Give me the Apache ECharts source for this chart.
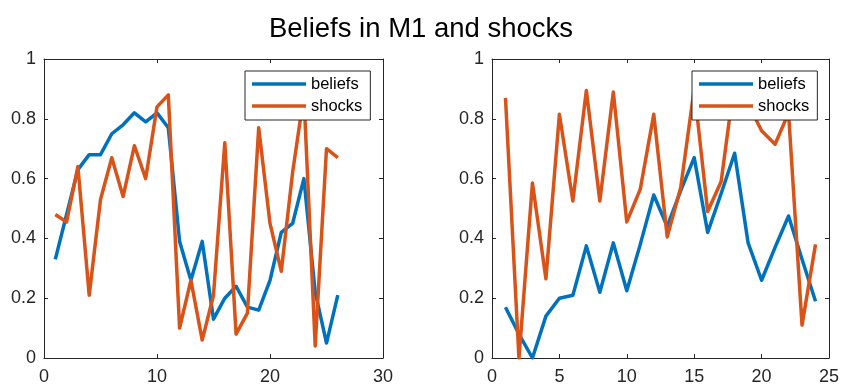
<!DOCTYPE html>
<html>
<head>
<meta charset="utf-8">
<script src="https://cdn.jsdelivr.net/npm/echarts@6/dist/echarts.min.js"></script>
<style>
  html, body { margin: 0; padding: 0; background: #fff; }
  #chart { width: 842px; height: 386px; }
</style>
</head>
<body>
<div id="chart"></div>
<script>
// values
const leftBeliefs = [0.33, 0.48, 0.63, 0.68, 0.68, 0.75, 0.78, 0.82, 0.79, 0.82, 0.77, 0.39, 0.26,
    0.39, 0.13, 0.20, 0.24, 0.17, 0.16, 0.26, 0.42, 0.45, 0.60, 0.22, 0.05, 0.21];
const leftShocks = [0.48, 0.455, 0.64, 0.21, 0.53, 0.67, 0.54, 0.71, 0.60, 0.84, 0.88, 0.10, 0.26,
    0.06, 0.21, 0.72, 0.08, 0.15, 0.77, 0.45, 0.29, 0.62, 0.88, 0.04, 0.70, 0.67];
const rightBeliefs = [0.17, 0.08, 0.00, 0.14, 0.20, 0.21, 0.375, 0.22, 0.385, 0.225, 0.38, 0.545,
    0.44, 0.56, 0.67, 0.42, 0.55, 0.685, 0.385, 0.26, 0.37, 0.475, 0.33, 0.19];
const rightShocks = [0.87, 0.00, 0.585, 0.265, 0.815, 0.525, 0.895, 0.525, 0.89, 0.455, 0.565, 0.815,
    0.405, 0.57, 0.90, 0.49, 0.59, 0.93, 0.85, 0.76, 0.715, 0.82, 0.11, 0.38];

const leftXMax = 30, leftXStep = 10;
const rightXMax = 25, rightXStep = 5;
const yMax = 1, yStep = 0.2;

const BLUE = '#0072BD';
const ORANGE = '#D95319';
const AXIS = '#262626';
const FONT = '"Liberation Sans", Arial, sans-serif';

// x index starts at 1
function pts(arr) {
    return arr.map((v, i) => [i + 1, v]);
}

function xAx(grid, max, step, pos) {
    return {
        type: 'value', gridIndex: grid, position: pos, min: 0, max: max, interval: step,
        axisLine: {show: true, onZero: false, lineStyle: {color: AXIS, width: 1}},
        axisTick: {show: true, inside: true, length: 4, lineStyle: {color: AXIS}},
        axisLabel: {show: pos === 'bottom', color: AXIS, fontSize: 18, fontFamily: FONT, margin: 10},
        splitLine: {show: false}
    };
}

function yAx(grid, pos) {
    return {
        type: 'value', gridIndex: grid, position: pos, min: 0, max: yMax, interval: yStep,
        axisLine: {show: true, onZero: false, lineStyle: {color: AXIS, width: 1}},
        axisTick: {show: true, inside: true, length: 4, lineStyle: {color: AXIS}},
        axisLabel: {show: pos === 'left', color: AXIS, fontSize: 18, fontFamily: FONT, margin: 8},
        splitLine: {show: false}
    };
}

function legendAt(left) {
    return {
        left: left, top: 71, orient: 'vertical', z: 10,
        data: ['beliefs', 'shocks'],
        icon: 'rect', itemWidth: 54, itemHeight: 3.5, itemGap: 2,
        padding: [3, 8, 4, 7],
        backgroundColor: '#fff', borderColor: AXIS, borderWidth: 1,
        textStyle: {fontSize: 16.5, fontFamily: FONT, color: '#000', lineHeight: 20, padding: [0, 0, 0, 0]},
        selectedMode: false
    };
}

function lineSeries(name, data, color, idx) {
    return {
        name: name, type: 'line', data: pts(data),
        xAxisIndex: idx, yAxisIndex: idx,
        showSymbol: false, symbol: 'none',
        lineStyle: {color: color, width: 3.5, join: 'round'},
        itemStyle: {color: color},
        animation: false
    };
}

const chart = echarts.init(document.getElementById('chart'));
chart.setOption({
    backgroundColor: '#fff',
    animation: false,
    title: {
        text: 'Beliefs in M1 and shocks', left: 'center', top: 10,
        textStyle: {fontSize: 27.5, fontWeight: 'normal', fontFamily: FONT, color: '#000'}
    },
    legend: [legendAt(245), legendAt(692)],
    grid: [
        {left: 44, top: 59, width: 339, height: 300, show: false},
        {left: 492, top: 59, width: 341, height: 300, show: false}
    ],
    xAxis: [
        xAx(0, leftXMax, leftXStep, 'bottom'),
        xAx(1, rightXMax, rightXStep, 'bottom'),
        xAx(0, leftXMax, leftXStep, 'top'),
        xAx(1, rightXMax, rightXStep, 'top')
    ],
    yAxis: [
        yAx(0, 'left'),
        yAx(1, 'left'),
        yAx(0, 'right'),
        yAx(1, 'right')
    ],
    series: [
        lineSeries('beliefs', leftBeliefs, BLUE, 0),
        lineSeries('shocks', leftShocks, ORANGE, 0),
        lineSeries('beliefs', rightBeliefs, BLUE, 1),
        lineSeries('shocks', rightShocks, ORANGE, 1)
    ]
});
</script>
</body>
</html>
